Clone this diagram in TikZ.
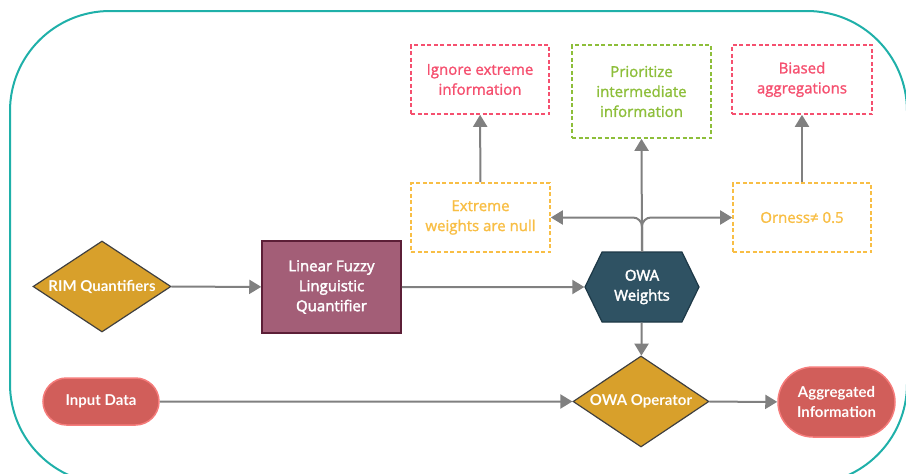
\documentclass[tikz,border=0pt]{standalone}
\usepackage{fontspec}
\setmainfont{Open Sans}
\newfontfamily\latofont{Lato}
\newfontfamily\notefont[FakeBold=1.4]{Open Sans}
\newfontfamily\boxfont[FakeBold=2.4]{Open Sans}
\usetikzlibrary{shapes.geometric,shapes.symbols,shapes.misc,arrows.meta}

\definecolor{frameteal}{HTML}{1FB0A9}
\definecolor{linegray}{HTML}{808080}
\definecolor{notepink}{HTML}{F5506F}
\definecolor{notegreen}{HTML}{8DBE3A}
\definecolor{noteyellow}{HTML}{F8BE45}
\definecolor{goldfill}{HTML}{D8A02B}
\definecolor{mauvefill}{HTML}{A35E77}
\definecolor{mauveline}{HTML}{5C1F37}
\definecolor{hexfill}{HTML}{2F5263}
\definecolor{hexline}{HTML}{1D3846}
\definecolor{pillfill}{HTML}{D15E5A}
\definecolor{pillline}{HTML}{F57C7B}

\begin{document}
\begin{tikzpicture}[x=1pt, y=-1pt,
  every node/.style={font=\boxfont\fontsize{15}{20}\selectfont, align=center, inner sep=0},
  note/.style={draw=#1, text=#1, dash pattern=on 4 off 2.5, line width=1.6,
    font=\notefont\fontsize{15}{20}\selectfont},
  decision/.style={diamond, shape aspect=1.5, fill=goldfill, draw=black!75, line width=1.2,
    text=white, font=\latofont\bfseries\fontsize{15}{19}\selectfont},
  pill/.style={rounded rectangle, fill=pillfill, draw=pillline, line width=1.5,
    text=white, font=\latofont\bfseries\fontsize{15}{20}\selectfont},
  flow/.style={draw=linegray, line width=2, -{Triangle[length=12,width=14]}}]
\useasboundingbox (0,0) rectangle (906,474);
\draw[frameteal, line width=2, rounded corners=100] (10,11) rectangle (907,484); % outer frame

% top row of notes
\node[note=notepink, minimum width=138, minimum height=69] (ign) at (480,79.5) {Ignore extreme\\information};
\node[note=notegreen, minimum width=139, minimum height=93] (pri) at (641.5,91.5) {Prioritize\\intermediate\\information};
\node[note=notepink, minimum width=140, minimum height=69] (bia) at (802,79.5) {Biased\\aggregations};
% middle row of notes
\node[note=noteyellow, minimum width=139, minimum height=69] (ext) at (480.5,217.5) {Extreme\\weights are null};
\node[note=noteyellow, minimum width=138, minimum height=69] (orn) at (802,217.5) {Orness≠ 0.5};

\node[decision, minimum width=138, minimum height=91] (rim) at (102,286.5) {RIM Quantifiers};
\node[fill=mauvefill, draw=mauveline, line width=1.5, text=white, minimum width=139, minimum height=92] (lin) at (331.5,287) {Linear Fuzzy\\Linguistic\\Quantifier};
\node[signal, signal to=east and west, signal pointer angle=128, fill=hexfill, draw=hexline, line width=1.2,
  text=white, minimum width=114, minimum height=70] (wts) at (642,287) {OWA\\Weights};
\node[decision, minimum width=136, minimum height=91] (opr) at (641,401.5) {OWA Operator};
\node[pill, minimum width=116, minimum height=47] (inp) at (101,401.5) {Input Data};
\node[pill, minimum width=117, minimum height=70] (agg) at (836.5,402) {Aggregated\\Information};

\draw[flow] (rim) -- (lin);
\draw[flow] (lin) -- (wts);
\draw[flow] (wts) -- (opr);
\draw[flow] (inp) -- (opr);
\draw[flow] (opr) -- (agg);
\draw[flow] (wts.north) -- (pri.south);
\draw[flow, rounded corners=9] (wts.north) |- (ext.east);
\draw[flow, rounded corners=9] (wts.north) |- (orn.west);
\draw[flow] (ext) -- (ign);
\draw[flow] (orn) -- (bia);
\end{tikzpicture}
\end{document}
